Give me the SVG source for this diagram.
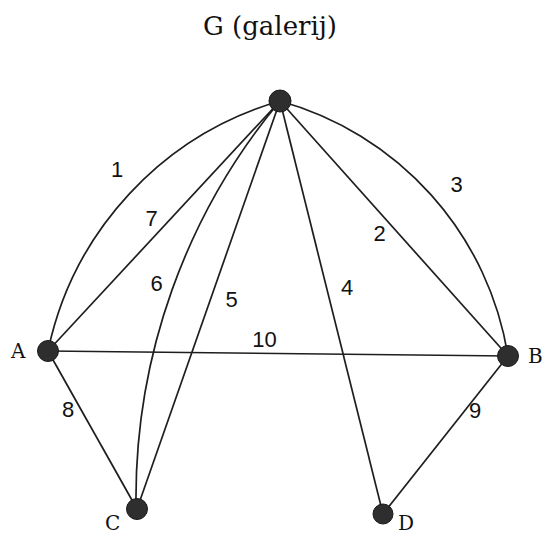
<svg xmlns="http://www.w3.org/2000/svg" width="544" height="537" viewBox="0 0 544 537">
<style>
.e{fill:none;stroke:#1e1e1e;stroke-width:1.7}
.n{fill:#2e2e2e;stroke:#1a1a1a;stroke-width:1}
.nl{font-family:"DejaVu Serif","Liberation Serif",serif;font-size:20px;fill:#111}
.el{font-family:"Liberation Sans",Arial,sans-serif;font-size:22px;fill:#111;text-anchor:middle}
.t{font-family:"DejaVu Serif","Liberation Serif",serif;font-size:26px;fill:#111;text-anchor:middle}
</style>
<rect width="544" height="537" fill="#fff"/>
<text class="t" x="270" y="35">G (galerij)</text>
<g id="connectors">
<path id="e1" class="e" d="M280,101 A331,331 0 0 0 48,351"/>
<path id="e3" class="e" d="M280,101 A317,317 0 0 1 508,356"/>
<path id="e7" class="e" d="M280,101 L48,351"/>
<path id="e2" class="e" d="M280,101 L508,356"/>
<path id="e6" class="e" d="M280,101 A620,620 0 0 0 136,505"/>
<path id="e5" class="e" d="M280,101 L137,509"/>
<path id="e4" class="e" d="M280,101 L383,514"/>
<path id="e10" class="e" d="M48,351 L508,356"/>
<path id="e8" class="e" d="M48,351 L137,509"/>
<path id="e9" class="e" d="M508,356 L383,514"/>
<text class="el" x="117" y="177">1</text>
<text class="el" x="151.5" y="226">7</text>
<text class="el" x="156.5" y="291">6</text>
<text class="el" x="231.5" y="307">5</text>
<text class="el" x="347" y="295">4</text>
<text class="el" x="379.5" y="241">2</text>
<text class="el" x="456.5" y="192">3</text>
<text class="el" x="264.5" y="347">10</text>
<text class="el" x="68" y="417">8</text>
<text class="el" x="475" y="418">9</text>
</g>
<g id="G"><circle class="n" cx="280" cy="101" r="11"/></g>
<g id="A"><circle class="n" cx="48" cy="351" r="10.5"/><text class="nl" x="11" y="358">A</text></g>
<g id="B"><circle class="n" cx="508" cy="356" r="10.5"/><text class="nl" x="528" y="363">B</text></g>
<g id="C"><circle class="n" cx="137" cy="509" r="10.5"/><text class="nl" x="105" y="530">C</text></g>
<g id="D"><circle class="n" cx="383" cy="514" r="10"/><text class="nl" x="398" y="530">D</text></g>
</svg>
